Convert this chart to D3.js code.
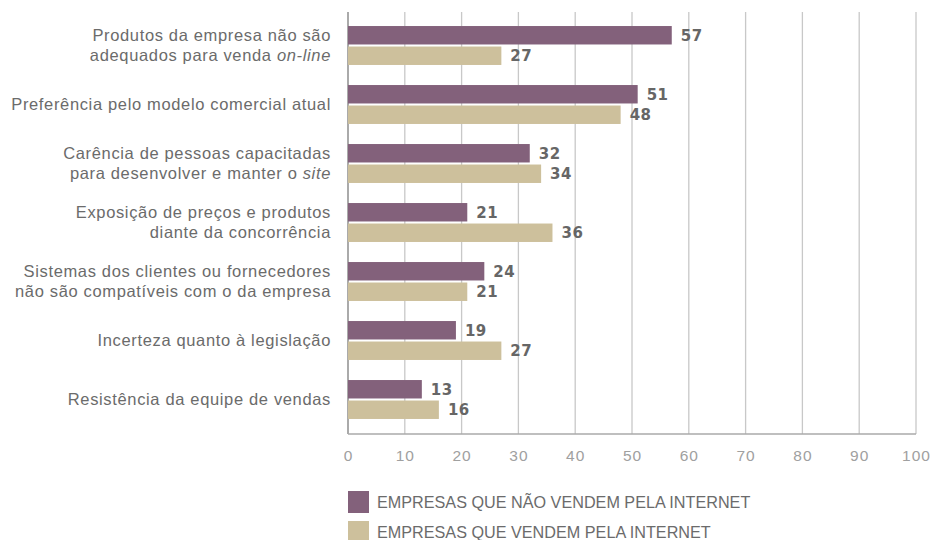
<!DOCTYPE html>
<html>
<head>
<meta charset="utf-8">
<script src="https://cdn.jsdelivr.net/npm/d3@7"></script>
<style>
body { margin: 0; background: #fff; }
</style>
</head>
<body>
<script>
// categories, each as label lines ([text, italic part])
var categories = [
  [["Produtos da empresa não são", ""], ["adequados para venda ", "on-line"]],
  [["Preferência pelo modelo comercial atual", ""]],
  [["Carência de pessoas capacitadas", ""], ["para desenvolver e manter o ", "site"]],
  [["Exposição de preços e produtos", ""], ["diante da concorrência", ""]],
  [["Sistemas dos clientes ou fornecedores", ""], ["não são compatíveis com o da empresa", ""]],
  [["Incerteza quanto à legislação", ""]],
  [["Resistência da equipe de vendas", ""]]
];
var naoVendem = [57, 51, 32, 21, 24, 19, 13];
var vendem = [27, 48, 34, 36, 21, 27, 16];
var seriesNames = ["EMPRESAS QUE NÃO VENDEM PELA INTERNET", "EMPRESAS QUE VENDEM PELA INTERNET"];
var ticks = [0, 10, 20, 30, 40, 50, 60, 70, 80, 90, 100];

var purple = '#83617b', tan = '#cdc09c';

var svg = d3.select('body').append('svg')
  .attr('width', 932)
  .attr('height', 540);

var x = d3.scaleLinear().domain([0, 100]).range([348, 916]);
var y = d3.scaleBand().domain(d3.range(categories.length))
  .range([16, 429]).paddingInner(0.34).paddingOuter(0.17);
var sub = d3.scaleBand().domain([0, 1]).range([0, y.bandwidth()]).paddingInner(0.1);

// grid
svg.append('g').selectAll('line')
  .data(ticks).enter().append('line')
  .attr('x1', function(d) { return x(d); })
  .attr('x2', function(d) { return x(d); })
  .attr('y1', 12).attr('y2', 434)
  .attr('stroke', function(d) { return d === 0 ? '#aaa' : '#c8c8c8'; })
  .attr('stroke-width', function(d) { return d === 0 ? 2 : 1.3; });

svg.append('line')
  .attr('x1', x(0)).attr('x2', x(100))
  .attr('y1', 434).attr('y2', 434)
  .attr('stroke', '#aaa').attr('stroke-width', 1.5);

// tick labels
var axis = d3.axisBottom(x).tickValues(ticks).tickSize(0).tickPadding(0);
var ax = svg.append('g').attr('transform', 'translate(0,450)').call(axis);
ax.select('.domain').remove();
ax.selectAll('text')
  .attr('dy', '0.7em')
  .style('font-family', 'Liberation Sans, Arial, sans-serif')
  .style('font-size', '15.5px')
  .style('letter-spacing', '1px')
  .style('fill', '#a0a0a0');

var series = [naoVendem, vendem];
var colors = [purple, tan];

series.forEach(function(data, s) {
  svg.append('g').selectAll('rect')
    .data(data).enter().append('rect')
    .attr('x', x(0))
    .attr('y', function(d, i) { return y(i) + sub(s); })
    .attr('width', function(d) { return x(d) - x(0); })
    .attr('height', sub.bandwidth())
    .attr('fill', colors[s]);

  svg.append('g').selectAll('text')
    .data(data).enter().append('text')
    .attr('x', function(d) { return x(d) + 9; })
    .attr('y', function(d, i) { return y(i) + sub(s) + sub.bandwidth() / 2; })
    .attr('dy', '0.36em')
    .style('font-family', 'DejaVu Sans, sans-serif')
    .style('font-weight', 'bold')
    .style('font-size', '15px')
    .style('letter-spacing', '0.5px')
    .style('fill', '#666')
    .text(function(d) { return d; });
});

// category labels
categories.forEach(function(lines, i) {
  var cy = y(i) + y.bandwidth() / 2;
  var n = lines.length;
  lines.forEach(function(ln, j) {
    var t = svg.append('text')
      .attr('x', 331)
      .attr('y', cy + (j - (n - 1) / 2) * 20)
      .attr('dy', '0.36em')
      .attr('text-anchor', 'end')
      .style('font-family', 'Liberation Sans, Arial, sans-serif')
      .style('font-size', '16.5px')
      .style('letter-spacing', '0.65px')
      .style('fill', '#6b6b6b');
    t.append('tspan').text(ln[0]);
    if (ln[1]) t.append('tspan').style('font-style', 'italic').text(ln[1]);
  });
});

// legend
var lg = svg.append('g').selectAll('g')
  .data(seriesNames).enter().append('g')
  .attr('transform', function(d, i) { return 'translate(348,' + (491 + i * 30) + ')'; });
lg.append('rect').attr('width', 21).attr('height', 22)
  .attr('fill', function(d, i) { return colors[i]; });
lg.append('text')
  .attr('x', 29).attr('y', 11).attr('dy', '0.36em')
  .style('font-family', 'Liberation Sans Narrow, Liberation Sans, sans-serif')
  .style('font-stretch', 'condensed')
  .style('font-size', '16.2px')
  .style('fill', '#6b6b6b')
  .text(function(d) { return d; });
</script>
</body>
</html>
